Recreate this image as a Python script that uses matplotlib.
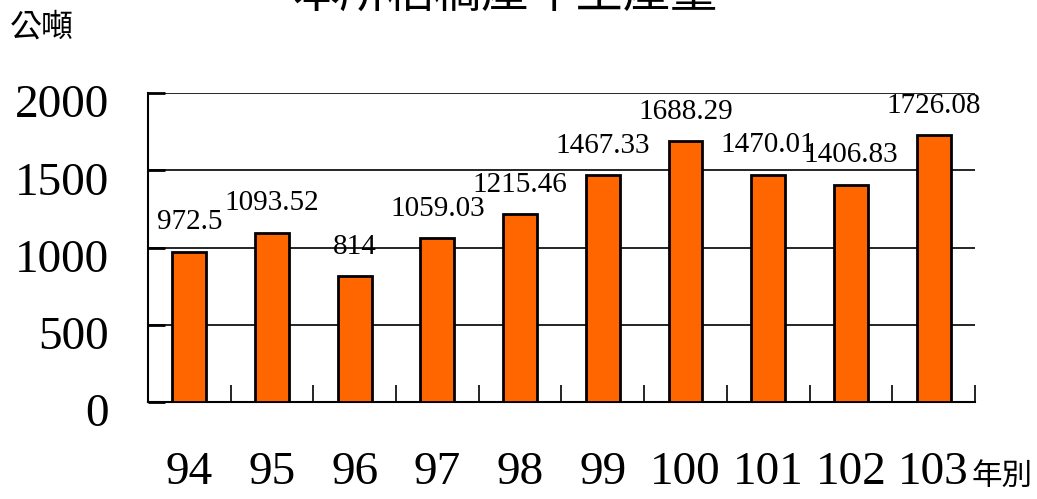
import matplotlib
matplotlib.use('Agg')
import matplotlib.pyplot as plt
import matplotlib.transforms as mtransforms
import numpy as np

years = ['94', '95', '96', '97', '98', '99', '100', '101', '102', '103']
values = [972.5, 1093.52, 814, 1059.03, 1215.46, 1467.33, 1688.29, 1470.01, 1406.83, 1726.08]
labels = ['972.5', '1093.52', '814', '1059.03', '1215.46', '1467.33', '1688.29', '1470.01', '1406.83', '1726.08']

serif = ['Liberation Serif', 'DejaVu Serif']
cjk = ['Noto Sans CJK TC', 'DejaVu Sans']

fig = plt.figure(figsize=(10.37, 4.99), dpi=100)
ax = fig.add_axes([0.1427, 0.1944, 0.7975, 0.619])

x = np.arange(len(years))
ax.bar(x, values, width=0.41, color='#FF6600', edgecolor='black', linewidth=2, zorder=3)

# etiquetas de valor encima de cada barra
for xi, v, t in zip(x, values, labels):
    ax.annotate(t, (xi, v), xytext=(0, 12), textcoords='offset points',
                ha='center', va='bottom', fontsize=21, family=serif, zorder=4)

ax.set_xlim(-0.5, len(years) - 0.5)
ax.set_ylim(0, 2000)
ax.set_yticks([0, 500, 1000, 1500, 2000])
ax.set_yticklabels(['0', '500', '1000', '1500', '2000'], family=serif, fontsize=34)
ax.set_xticks(x)
ax.set_xticklabels(years, family=serif, fontsize=34)
ax.tick_params(axis='x', length=0, pad=36)
ax.tick_params(axis='y', direction='in', length=12, width=2, pad=28)
# bajar un poco las etiquetas del eje y
shift = mtransforms.ScaledTranslation(0, -8 / 100, fig.dpi_scale_trans)
for lab in ax.get_yticklabels():
    lab.set_transform(lab.get_transform() + shift)
ax.set_xticks(np.arange(-0.5, len(years)), minor=True)
ax.tick_params(axis='x', which='minor', direction='in', length=12, width=1.2)

ax.grid(axis='y', color='black', linewidth=1.2, zorder=0)
for s in ['top', 'right']:
    ax.spines[s].set_visible(False)
ax.spines['left'].set_linewidth(1.5)
ax.spines['bottom'].set_linewidth(1.5)

fig.text(10 / 1037, 1 - 44 / 499, '公噸', family=cjk, fontsize=23, ha='left', va='bottom')
fig.text(972 / 1037, 1 - 492 / 499, '年別', family=cjk, fontsize=22, ha='left', va='bottom')
fig.text(505 / 1037, 1 - 18 / 499, '本所稻稿產年生產量', family=cjk, fontsize=34,
         ha='center', va='bottom')

fig.savefig('out.png', dpi=100)
